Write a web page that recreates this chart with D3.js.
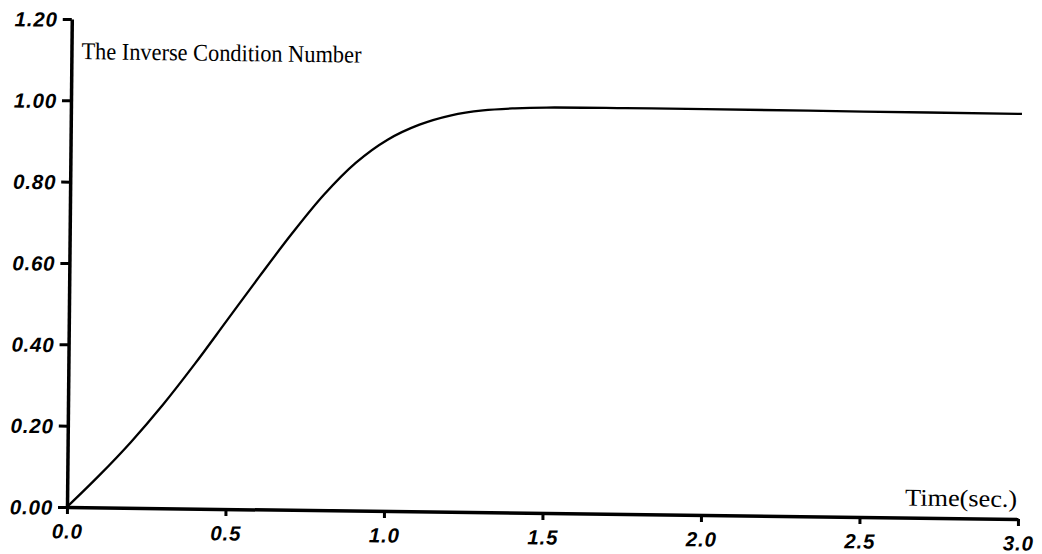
<!DOCTYPE html>
<html>
<head>
<meta charset="utf-8">
<script src="https://cdn.jsdelivr.net/npm/d3@7"></script>
<style>
  html, body { margin: 0; padding: 0; background: #fff; }
  svg { display: block; }
  .tick text { font-family: "Liberation Sans", Arial, sans-serif; font-weight: bold; font-style: italic; font-size: 20.5px; letter-spacing: 0.8px; fill: #000; }
  .lbl { font-family: "Liberation Serif", "Times New Roman", serif; font-size: 24px; fill: #000; }
</style>
</head>
<body>
<script>
// Inverse condition number over time
const timeSec = [0, 0.1, 0.2, 0.3, 0.4, 0.5, 0.6, 0.7, 0.8, 0.9, 1.0, 1.1, 1.2, 1.3, 1.4, 1.5, 1.75, 2.0, 2.5, 3.0];
const inverseCond = [0, 0.078, 0.162, 0.255, 0.357, 0.465, 0.573, 0.678, 0.775, 0.855, 0.913, 0.951, 0.975, 0.988, 0.994, 0.997, 0.998, 0.998, 0.997, 0.996];
const xTicks = [0, 0.5, 1.0, 1.5, 2.0, 2.5, 3.0];
const yTicks = [0, 0.2, 0.4, 0.6, 0.8, 1.0, 1.2];

const W = 1042, H = 554;
const ox = 67, oy = 507;

const svg = d3.select("body").append("svg").attr("width", W).attr("height", H);

// plot frame, sheared slightly
const g = svg.append("g")
  .attr("transform", `translate(${ox},${oy}) matrix(1,0.0126,-0.0098,1,0,0) translate(${-ox},${-oy})`);

const x = d3.scaleLinear().domain([0, 3]).range([ox, 1018]);
const y = d3.scaleLinear().domain([0, 1.2]).range([oy, 19]);

const yAxis = g.append("g")
  .attr("transform", `translate(${ox},0)`)
  .call(d3.axisLeft(y).tickValues(yTicks).tickFormat(d3.format(".2f")).tickSize(9).tickSizeOuter(0).tickPadding(5));

const xAxis = g.append("g")
  .attr("transform", `translate(0,${oy})`)
  .call(d3.axisBottom(x).tickValues(xTicks).tickFormat(d3.format(".1f")).tickSize(7).tickSizeOuter(0).tickPadding(6));

[yAxis, xAxis].forEach(a => {
  a.select(".domain").attr("stroke", "#000").attr("stroke-width", 3.5);
  a.selectAll(".tick line").attr("stroke", "#000").attr("stroke-width", 3);
});
yAxis.selectAll(".tick text").attr("dy", "0.36em");
xAxis.selectAll(".tick text").attr("dy", "0.9em");

// curve
const pts = timeSec.map((t, i) => [t, inverseCond[i]]);
g.append("path")
  .datum(pts)
  .attr("fill", "none")
  .attr("stroke", "#000")
  .attr("stroke-width", 2.3)
  .attr("d", d3.line().x(d => x(d[0])).y(d => y(d[1])).curve(d3.curveCatmullRom.alpha(0.5)));

// axis titles
g.append("text").attr("class", "lbl")
  .attr("x", 77).attr("y", 59)
  .attr("textLength", 280).attr("lengthAdjust", "spacingAndGlyphs")
  .text("The Inverse Condition Number");

g.append("text").attr("class", "lbl")
  .attr("x", 1017).attr("y", oy - 12)
  .attr("text-anchor", "end")
  .attr("textLength", 112).attr("lengthAdjust", "spacingAndGlyphs")
  .text("Time(sec.)");
</script>
</body>
</html>
